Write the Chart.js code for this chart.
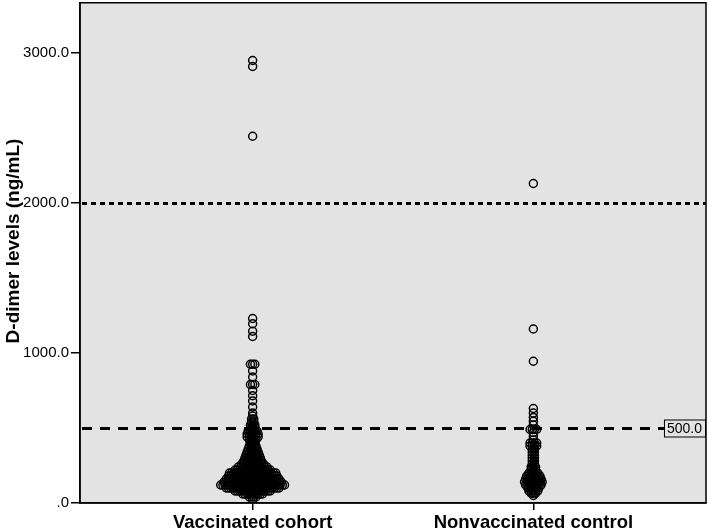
<!DOCTYPE html>
<html>
<head>
<meta charset="utf-8">
<script src="https://cdn.jsdelivr.net/npm/chart.js@4.4.1/dist/chart.umd.min.js"></script>
<style>
  html, body { margin: 0; padding: 0; background: #fff; }
</style>
</head>
<body>
<canvas id="dotChart" width="709" height="532"></canvas>
<script>
// groups on the x axis
const categories = ["Vaccinated cohort", "Nonvaccinated control"];

// D-dimer level (ng/mL) and how many cases sit at that level
const vaccinatedLevels = [20, 40, 60, 80, 100, 120, 140, 160, 180, 200, 220, 240, 260, 280, 300, 320,
  340, 360, 380, 400, 420, 440, 460, 480, 500, 520, 540, 560, 580, 600, 640, 680,
  715, 750, 790, 840, 880, 925, 1110, 1145, 1195, 1230, 2445, 2910, 2950];
const vaccinatedCounts = [1, 4, 10, 17, 25, 30, 27, 25, 23, 22, 17, 14, 11, 9, 8, 7,
  6, 5, 4, 3, 4, 6, 6, 5, 3, 3, 2, 2, 1, 1, 1, 1,
  1, 1, 3, 1, 1, 3, 1, 1, 1, 1, 1, 1, 1];

const nonvaccinatedLevels = [50, 65, 80, 100, 120, 140, 160, 180, 200, 220, 240, 260, 280, 300, 320,
  340, 360, 380, 400, 420, 445, 470, 490, 520, 545, 570, 600, 630, 945, 1160, 2130];
const nonvaccinatedCounts = [1, 3, 5, 6, 8, 9, 8, 7, 5, 3, 3, 2, 2, 2, 2,
  2, 2, 4, 4, 1, 1, 1, 4, 1, 1, 1, 1, 1, 1, 1, 1];

const yTicks = [0, 1000, 2000, 3000];
const yMax = 3335;
const refLines = [2000, 500];
const refLabel = "500.0";
const yTitle = "D-dimer levels (ng/mL)";

const STEP_PX = 2.2; // horizontal spacing of stacked dots
const FONT = "'Liberation Sans', Arial, sans-serif";

function stackDots(center, levels, counts, stepUnits) {
  const pts = [];
  levels.forEach((lvl, i) => {
    const n = counts[i];
    for (let k = 0; k < n; k++) {
      pts.push({ x: center + (k - (n - 1) / 2) * stepUnits, y: lvl });
    }
  });
  return pts;
}

const plotDecor = {
  id: "plotDecor",
  beforeDraw(chart) {
    const { ctx, chartArea: a } = chart;
    ctx.save();
    ctx.fillStyle = "#e3e3e3";
    ctx.fillRect(a.left, a.top, a.right - a.left, a.bottom - a.top);
    ctx.restore();
  },
  afterDatasetsDraw(chart) {
    const { ctx, chartArea: a, scales } = chart;
    ctx.save();
    ctx.strokeStyle = "#000";
    ctx.lineWidth = 3;
    // dotted line at 2000
    let y = Math.round(scales.y.getPixelForValue(refLines[0])) + 0.5;
    ctx.setLineDash([5, 4]);
    ctx.beginPath();
    ctx.moveTo(a.left + 2, y);
    ctx.lineTo(a.right, y);
    ctx.stroke();
    // dashed line at 500 with its value box
    y = Math.round(scales.y.getPixelForValue(refLines[1])) + 0.5;
    ctx.setLineDash([10, 8]);
    ctx.beginPath();
    ctx.moveTo(a.left + 2, y);
    ctx.lineTo(a.right - 38, y);
    ctx.stroke();
    ctx.setLineDash([]);
    ctx.font = "14px " + FONT;
    const tw = ctx.measureText(refLabel).width;
    const bw = tw + 7, bh = 17, bx = a.right - bw;
    ctx.fillStyle = "#e3e3e3";
    ctx.fillRect(bx, y - bh / 2, bw, bh);
    ctx.lineWidth = 1;
    ctx.strokeRect(bx + 0.5, y - bh / 2, bw - 1, bh);
    ctx.fillStyle = "#000";
    ctx.textBaseline = "middle";
    ctx.fillText(refLabel, bx + 3, y + 1);
    // frame
    ctx.lineWidth = 1.5;
    ctx.strokeRect(a.left, a.top, a.right - a.left, a.bottom - a.top);
    // y axis title
    ctx.translate(14, 241);
    ctx.rotate(-Math.PI / 2);
    ctx.font = "bold 19px " + FONT;
    ctx.textAlign = "center";
    ctx.textBaseline = "middle";
    ctx.fillText(yTitle, 0, 0);
    ctx.restore();
  }
};

const pointStyle = {
  pointStyle: "circle",
  pointRadius: 4,
  pointHoverRadius: 4,
  pointBorderWidth: 1.5,
  borderColor: "#000",
  backgroundColor: "rgba(0,0,0,0)"
};

const chart = new Chart(document.getElementById("dotChart"), {
  type: "scatter",
  data: {
    datasets: [
      Object.assign({ label: categories[0], data: [] }, pointStyle),
      Object.assign({ label: categories[1], data: [] }, pointStyle)
    ]
  },
  options: {
    responsive: false,
    animation: false,
    layout: { autoPadding: false, padding: { top: 1, right: 3, left: 0, bottom: 0 } },
    plugins: { legend: { display: false }, tooltip: { enabled: false } },
    scales: {
      x: {
        type: "linear",
        min: 0.385,
        max: 2.615,
        afterBuildTicks: s => { s.ticks = [{ value: 1 }, { value: 2 }]; },
        afterFit: s => { s.height = 29; },
        ticks: {
          callback: v => categories[v - 1],
          font: { family: FONT, size: 18.5, weight: "bold" },
          color: "#000",
          padding: 2,
          maxRotation: 0
        },
        grid: { drawOnChartArea: false, tickLength: 7, color: "#000", lineWidth: 1.5 },
        border: { color: "#000", width: 1.5 }
      },
      y: {
        min: 0,
        max: yMax,
        afterBuildTicks: s => { s.ticks = yTicks.map(v => ({ value: v })); },
        afterFit: s => { s.width = 80; },
        ticks: {
          callback: v => (v === 0 ? ".0" : v.toFixed(1)),
          font: { family: FONT, size: 15, lineHeight: 0.1 },
          color: "#000",
          padding: 2
        },
        grid: { drawOnChartArea: false, tickLength: 9, color: "#000", lineWidth: 1.5 },
        border: { color: "#000", width: 1.5 }
      }
    }
  },
  plugins: [plotDecor]
});

const xs = chart.scales.x;
const stepUnits = STEP_PX / (xs.getPixelForValue(2) - xs.getPixelForValue(1));
chart.data.datasets[0].data = stackDots(1, vaccinatedLevels, vaccinatedCounts, stepUnits);
chart.data.datasets[1].data = stackDots(2, nonvaccinatedLevels, nonvaccinatedCounts, stepUnits);
chart.update();
</script>
</body>
</html>
